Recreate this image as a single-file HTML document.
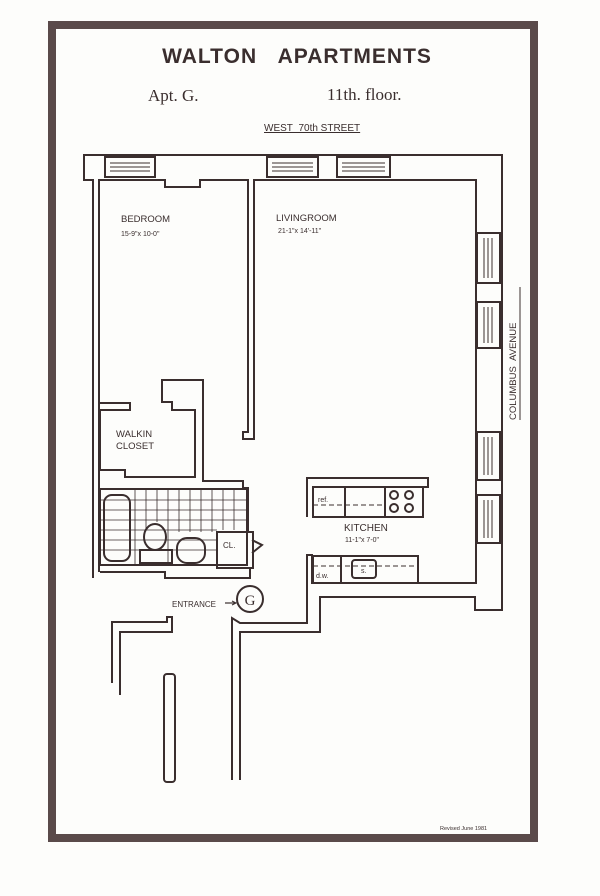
<!DOCTYPE html>
<html><head><meta charset="utf-8"><style>
html,body{margin:0;padding:0;background:#fff}
svg{display:block}
text{font-family:"Liberation Sans",sans-serif;fill:#3a2e2e}
</style></head><body>
<svg width="600" height="896" viewBox="0 0 600 896" xmlns="http://www.w3.org/2000/svg">
<rect x="0" y="0" width="600" height="896" fill="#fdfdfb"/>
<rect x="52" y="25" width="482" height="813" fill="none" stroke="#5a4a4a" stroke-width="8"/>
<text x="297" y="63" font-size="21" font-weight="bold" text-anchor="middle" letter-spacing="1">WALTON&#160;&#160;&#160;APARTMENTS</text>
<text x="148" y="101" font-size="17" style="font-family:'Liberation Serif',serif">Apt. G.</text>
<text x="327" y="100" font-size="17" style="font-family:'Liberation Serif',serif">11th. floor.</text>
<text x="264" y="131" font-size="10" text-decoration="underline">WEST&#160;&#160;70th STREET</text>
<g fill="none" stroke="#3a2e2e" stroke-width="2">
<polyline points="93,578 93,180 84,180 84,155 502,155 502,610 475,610 475,597 320,597 320,632 240,632 240,780"/>
<polyline points="99,572 99,180 165,180 165,187 200,187 200,180 248,180 248,432 243,432 243,439 254,439 254,180 476,180 476,583 312,583 312,555 307,555 307,623 240,623 232,618 232,780"/>
<rect x="105" y="157" width="50" height="20"/><rect x="267" y="157" width="51" height="20"/><rect x="337" y="157" width="53" height="20"/>
<rect x="477" y="233" width="23" height="50"/><rect x="477" y="302" width="23" height="46"/><rect x="477" y="432" width="23" height="48"/><rect x="477" y="495" width="23" height="48"/>
<polyline points="99,403 130,403 130,410 100,410 100,470 125,470 125,477 195,477 195,410 172,410 172,402 162,402 162,380 195,380 195,380 203,380 203,481 243,481 243,488 248,488 248,532"/>
<rect x="100" y="489" width="147" height="76"/>
<rect x="104" y="495" width="26" height="66" rx="8"/>
<ellipse cx="155" cy="537" rx="11" ry="13"/>
<rect x="140" y="550" width="32" height="13"/>
<rect x="177" y="538" width="28" height="25" rx="10"/>
<rect x="217" y="532" width="36" height="36"/>
<polyline points="252,540 262,545 252,553"/>
<polyline points="100,572 165,572 165,578 250,578 250,568"/>
<polyline points="307,517 307,478 428,478 428,487 313,487 313,517"/>
<rect x="313" y="487" width="110" height="30"/>
<line x1="345" y1="487" x2="345" y2="517"/><line x1="385" y1="487" x2="385" y2="517"/>
<circle cx="394" cy="495" r="4"/><circle cx="409" cy="495" r="4"/><circle cx="394" cy="508" r="4"/><circle cx="409" cy="508" r="4"/>
<rect x="313" y="556" width="105" height="27"/>
<line x1="341" y1="556" x2="341" y2="583"/>
<rect x="352" y="560" width="24" height="18" rx="3"/>
<polyline points="112,683 112,622 167,622 167,617 172,617 172,632 120,632 120,695"/>
<rect x="164" y="674" width="11" height="108" rx="3"/>
<circle cx="250" cy="599" r="13"/>
</g>
<g stroke="#3a2e2e" stroke-width="1" fill="none">
<path d="M110,163 H150 M110,167 H150 M110,171 H150 M272,163 H313 M272,167 H313 M272,171 H313 M342,163 H385 M342,167 H385 M342,171 H385"/>
<path d="M484,238 V278 M488,238 V278 M492,238 V278 M484,307 V343 M488,307 V343 M492,307 V343 M484,437 V475 M488,437 V475 M492,437 V475 M484,500 V538 M488,500 V538 M492,500 V538"/>
</g>
<g stroke="#3a2e2e" stroke-width="1" stroke-dasharray="5,3" fill="none">
<line x1="313" y1="505" x2="385" y2="505"/><line x1="313" y1="566" x2="418" y2="566"/>
</g>
<g stroke="#3a2e2e" stroke-width="0.8">
<path d="M101,500 H247 M101,510 H247 M101,520 H247 M101,530 H217 M101,540 H217 M101,550 H217 M135,489 V565 M146,489 V530 M157,489 V522 M168,489 V565 M179,489 V532 M190,489 V532 M201,489 V532 M212,489 V532 M223,489 V530 M234,489 V530"/>
</g>
<line x1="225" y1="603" x2="235" y2="603" stroke="#3a2e2e" stroke-width="1.2"/>
<polyline points="232,601 236,603 232,605" fill="none" stroke="#3a2e2e" stroke-width="1"/>
<text x="250" y="605" font-size="15" text-anchor="middle" style="font-family:'Liberation Serif',serif">G</text>
<text x="172" y="607" font-size="8">ENTRANCE</text>
<text x="121" y="222" font-size="9.5">BEDROOM</text>
<text x="121" y="236" font-size="7">15-9"x 10-0"</text>
<text x="276" y="221" font-size="9.5">LIVINGROOM</text>
<text x="278" y="233" font-size="7">21-1"x 14'-11"</text>
<text x="116" y="437" font-size="9.5">WALKIN</text>
<text x="116" y="449" font-size="9.5">CLOSET</text>
<text x="344" y="531" font-size="10">KITCHEN</text>
<text x="345" y="542" font-size="7">11-1"x 7-0"</text>
<text x="318" y="502" font-size="7">ref.</text>
<text x="316" y="578" font-size="7">d.w.</text>
<text x="361" y="573" font-size="7">s.</text>
<text x="223" y="548" font-size="8">CL.</text>
<text transform="translate(516,420) rotate(-90)" font-size="9.5">COLUMBUS&#160;&#160;AVENUE</text>
<line x1="520" y1="287" x2="520" y2="420" stroke="#3a2e2e" stroke-width="1"/>
<text x="440" y="830" font-size="5.5">Revised  June 1981</text>
</svg>
</body></html>
